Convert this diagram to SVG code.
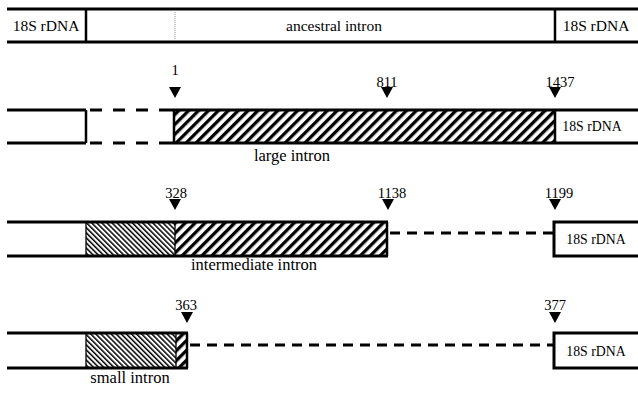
<svg xmlns="http://www.w3.org/2000/svg" width="638" height="394" viewBox="0 0 638 394">
<defs>
<pattern id="bold" width="7" height="7" patternUnits="userSpaceOnUse" patternTransform="rotate(45)">
<rect x="0" y="0" width="3.3" height="7" fill="#000"/>
</pattern>
<pattern id="fine" width="3.6" height="3.6" patternUnits="userSpaceOnUse" patternTransform="rotate(-45)">
<rect x="0" y="0" width="1.5" height="3.6" fill="#000"/>
</pattern>
<style>
text{font-family:'Liberation Serif','DejaVu Serif',serif;fill:#000}
.big{font-size:15.5px}
.lab{font-size:16.5px}
.num{font-size:14.5px}
.box{font-size:13.8px}
.ln{stroke:#000;stroke-width:3;fill:none}
.vt{stroke:#000;stroke-width:2.5;fill:none}
.vthin{stroke:#000;stroke-width:1.3;fill:none}
.dash{stroke:#000;stroke-width:2.8;fill:none}
.tri{fill:#000}
</style>
</defs>
<rect width="638" height="394" fill="#fff"/>

<g id="ancestral" font-family="Liberation Serif, DejaVu Serif, serif">
<line class="ln" x1="7" y1="9" x2="638" y2="9"/>
<line class="ln" x1="7" y1="42" x2="638" y2="42"/>
<line class="vt" x1="86" y1="9" x2="86" y2="42"/>
<line x1="175" y1="10" x2="175" y2="41" stroke="#888" stroke-width="1" stroke-dasharray="1,1"/>
<line class="vt" x1="555" y1="9" x2="555" y2="42"/>
<text class="big" x="46" y="31" text-anchor="middle">18S rDNA</text>
<text class="big" x="334" y="31" text-anchor="middle">ancestral intron</text>
<text class="big" x="596" y="31" text-anchor="middle">18S rDNA</text>
</g>

<g id="large" font-family="Liberation Serif, DejaVu Serif, serif">
<rect x="174" y="110" width="381" height="33" fill="url(#bold)"/>
<line class="ln" x1="7" y1="110" x2="86" y2="110"/>
<line class="ln" x1="7" y1="143" x2="86" y2="143"/>
<line class="vt" x1="86" y1="110" x2="86" y2="143"/>
<line class="ln" x1="163" y1="110" x2="638" y2="110"/>
<line class="ln" x1="163" y1="143" x2="638" y2="143"/>
<line class="vt" x1="174" y1="110" x2="174" y2="143"/>
<line class="vt" x1="555" y1="110" x2="555" y2="143"/>
<text class="box" x="592" y="131" text-anchor="middle">18S rDNA</text>
<text class="lab" x="292" y="161" text-anchor="middle">large intron</text>
<polygon class="tri" points="169,87 181,87 175,98"/>
<polygon class="tri" points="381,87 393,87 387,98"/>
<polygon class="tri" points="549,87 561,87 555,98"/>
<text class="num" x="175" y="75" text-anchor="middle">1</text>
<text class="num" x="387" y="87" text-anchor="middle">811</text>
<text class="num" x="560" y="87" text-anchor="middle">1437</text>
</g>

<g id="intermediate" font-family="Liberation Serif, DejaVu Serif, serif">
<rect x="86" y="222" width="89" height="34" fill="url(#fine)"/>
<rect x="175" y="222" width="212" height="34" fill="url(#bold)"/>
<line class="ln" x1="7" y1="222" x2="388" y2="222"/>
<line class="ln" x1="7" y1="256" x2="388" y2="256"/>
<line class="vthin" x1="86" y1="222" x2="86" y2="256"/>
<line class="vthin" x1="175" y1="222" x2="175" y2="256"/>
<line class="vt" x1="387" y1="222" x2="387" y2="256"/>
<rect x="554" y="222" width="86" height="34" class="ln"/>
<text class="box" x="596" y="244" text-anchor="middle">18S rDNA</text>
<text class="lab" x="254" y="270" text-anchor="middle">intermediate intron</text>
<polygon class="tri" points="169,199 181,199 175,210"/>
<polygon class="tri" points="382,199 394,199 388,210"/>
<polygon class="tri" points="549,199 561,199 555,210"/>
<text class="num" x="176" y="198" text-anchor="middle">328</text>
<text class="num" x="392" y="198" text-anchor="middle">1138</text>
<text class="num" x="559" y="198" text-anchor="middle">1199</text>
</g>

<g id="small" font-family="Liberation Serif, DejaVu Serif, serif">
<rect x="86" y="333" width="90" height="35" fill="url(#fine)"/>
<rect x="176" y="333" width="11" height="35" fill="url(#bold)"/>
<line class="ln" x1="7" y1="333" x2="188" y2="333"/>
<line class="ln" x1="7" y1="368" x2="188" y2="368"/>
<line class="vthin" x1="86" y1="333" x2="86" y2="368"/>
<line class="vthin" x1="176" y1="333" x2="176" y2="368"/>
<line class="vt" x1="187" y1="333" x2="187" y2="368"/>
<rect x="554" y="333" width="86" height="35" class="ln"/>
<text class="box" x="596" y="356" text-anchor="middle">18S rDNA</text>
<text class="lab" x="130" y="383" text-anchor="middle">small intron</text>
<polygon class="tri" points="181,312 193,312 187,323"/>
<polygon class="tri" points="549,312 561,312 555,323"/>
<text class="num" x="186" y="310" text-anchor="middle">363</text>
<text class="num" x="555" y="310" text-anchor="middle">377</text>
</g>

<g id="connectors">
<line class="dash" x1="90" y1="110" x2="163" y2="110" stroke-dasharray="12,11"/>
<line class="dash" x1="90" y1="143" x2="163" y2="143" stroke-dasharray="12,11"/>
<line class="dash" x1="390" y1="233" x2="553" y2="233" stroke-dasharray="10,7"/>
<line class="dash" x1="190" y1="345" x2="553" y2="345" stroke-dasharray="10,7"/>
</g>
</svg>
